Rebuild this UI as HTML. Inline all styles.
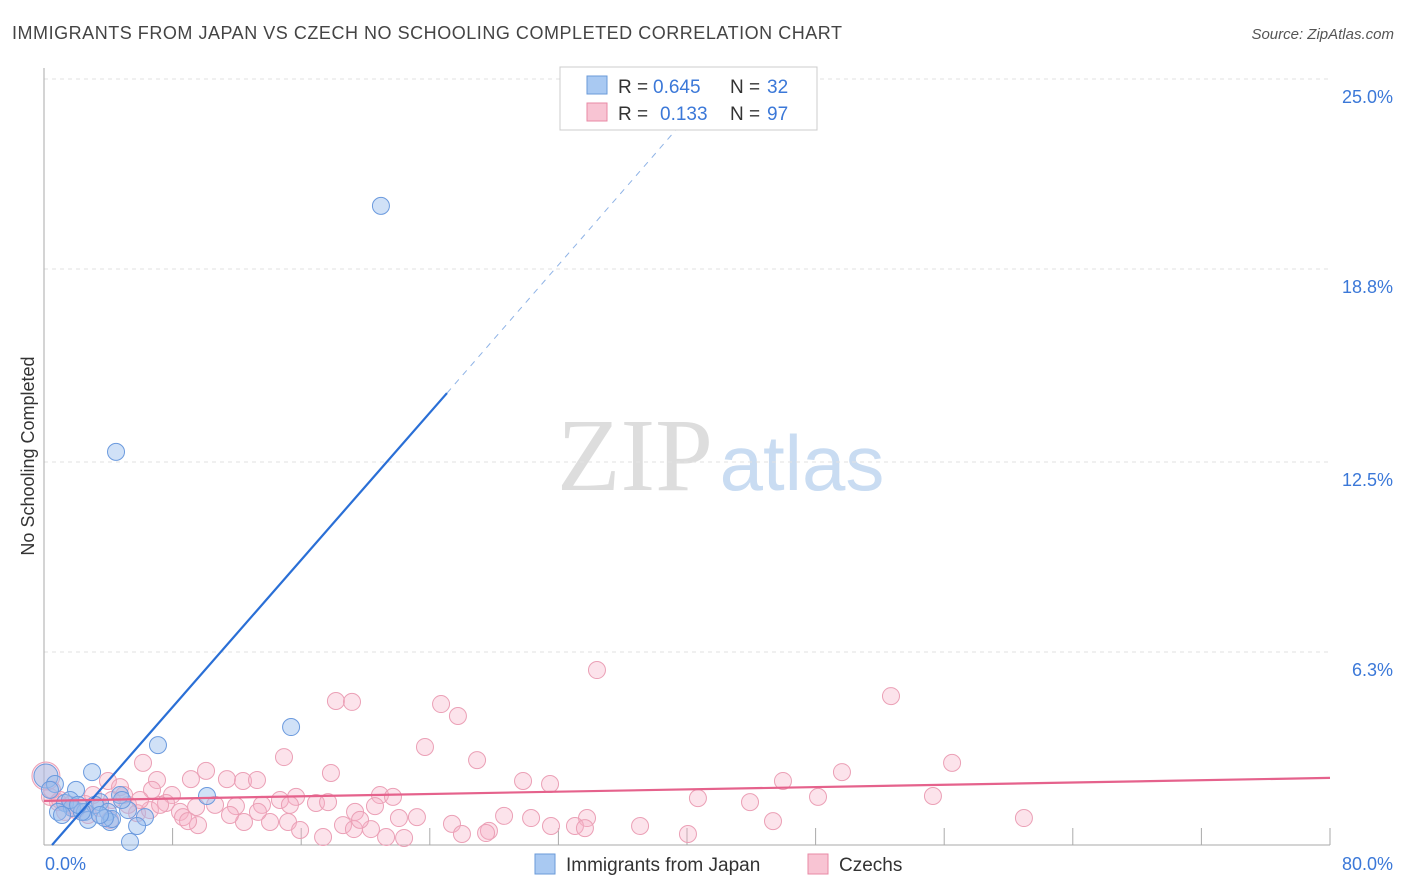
<!DOCTYPE html>
<html><head><meta charset="utf-8"><style>
body{margin:0;background:#fff;font-family:"Liberation Sans",sans-serif;}
svg{display:block}
</style></head><body>
<svg width="1406" height="892" xmlns="http://www.w3.org/2000/svg">
<text x="12" y="39" font-size="18" fill="#444" textLength="830">IMMIGRANTS FROM JAPAN VS CZECH NO SCHOOLING COMPLETED CORRELATION CHART</text>
<text x="1394" y="39" font-size="15" fill="#555" font-style="italic" text-anchor="end">Source: ZipAtlas.com</text>
<g>
<text x="635" y="490" font-size="104" fill="#ddd" font-family="Liberation Serif,serif" text-anchor="middle">ZIP</text>
<text x="802" y="490" font-size="78" fill="#c9dcf2" text-anchor="middle">atlas</text>
</g>
<g id="grid"></g>
<g id="axes"></g>
<text transform="translate(34,456) rotate(-90)" font-size="18" fill="#333" text-anchor="middle">No Schooling Completed</text>
<g id="marks"></g>
<g id="lines"></g>
<g>
<rect x="560" y="67" width="257" height="63" fill="#fff" stroke="#ccc"/>
<rect x="587" y="76" width="20" height="18" fill="#a9c9f2" stroke="#6a9ad8"/>
<rect x="587" y="103" width="20" height="18" fill="#f8c4d3" stroke="#e88aa6"/>
<text font-size="19" fill="#333"><tspan x="618" y="93">R =</tspan><tspan x="653" y="93" fill="#3b78d8">0.645</tspan><tspan x="730" y="93">N =</tspan><tspan x="767" y="93" fill="#3b78d8">32</tspan></text>
<text font-size="19" fill="#333"><tspan x="618" y="120">R =</tspan><tspan x="660" y="120" fill="#3b78d8">0.133</tspan><tspan x="730" y="120">N =</tspan><tspan x="767" y="120" fill="#3b78d8">97</tspan></text>
</g>
<g>
<rect x="535" y="854" width="20" height="20" fill="#a9c9f2" stroke="#6a9ad8"/>
<text x="566" y="871" font-size="19" fill="#333">Immigrants from Japan</text>
<rect x="808" y="854" width="20" height="20" fill="#f8c4d3" stroke="#e88aa6"/>
<text x="839" y="871" font-size="19" fill="#333">Czechs</text>
</g>
</svg>
<script>
const yTicks=[25.0,18.8,12.5,6.3];
const yTickLabels=["25.0%","18.8%","12.5%","6.3%"];
const xTicks=[0,8,16,24,32,40,48,56,64,72,80];
const japanX=[20.96,4.48,15.37,7.09,2.99,0.12,0.68,1.99,10.14,4.73,3.48,1.31,1.74,2.55,3.17,3.98,5.23,6.28,2.74,4.11,4.23,5.79,5.35,0.87,1.62,0.37,4.85,2.36,3.79,1.12,2.12,3.48];
const japanY=[20.86,12.83,3.85,3.26,2.38,2.25,1.99,1.80,1.60,1.63,1.40,1.37,1.21,1.08,1.31,1.08,1.14,0.91,0.82,0.75,0.85,0.62,0.10,1.08,1.47,1.80,1.47,1.08,0.88,0.98,1.31,0.98];
const czechX=[18.16,19.16,24.70,25.75,34.40,52.69,14.93,23.70,26.94,17.85,29.80,31.48,45.97,49.64,56.49,10.08,6.16,7.03,9.14,11.38,12.38,13.25,3.98,4.73,6.72,7.96,7.59,8.46,9.46,10.64,11.94,13.56,15.68,16.92,17.67,20.90,21.71,20.59,19.35,22.08,23.20,28.62,30.30,33.78,40.68,43.92,48.15,55.30,60.96,25.38,27.68,31.54,33.03,33.65,37.08,40.06,45.35,26.00,27.50,12.44,14.06,15.18,15.93,17.36,18.60,19.28,20.34,21.28,22.40,9.58,8.65,8.96,5.79,5.23,3.48,2.55,1.62,0.87,0.37,0.12,1.00,1.99,3.05,4.23,4.98,6.59,0.50,1.31,2.74,4.11,5.97,7.22,14.68,11.57,13.31,15.30,19.66];
const czechY=[4.70,4.67,4.60,4.21,5.71,4.86,2.87,3.20,2.77,2.35,2.09,1.99,2.09,2.38,2.68,2.42,2.68,2.12,2.15,2.15,2.09,2.12,2.09,1.89,1.80,1.63,1.37,1.08,1.24,1.31,1.27,1.31,1.57,1.37,1.40,1.63,1.57,1.27,1.08,0.88,0.91,0.95,0.88,0.88,1.53,1.40,1.57,1.60,0.88,0.69,0.46,0.62,0.62,0.55,0.62,0.36,0.78,0.36,0.39,0.75,0.75,0.75,0.49,0.26,0.65,0.52,0.52,0.26,0.23,0.65,0.91,0.78,1.04,1.31,1.21,1.34,1.31,1.40,1.57,2.25,1.47,1.14,1.63,1.47,1.63,1.14,1.80,1.08,0.98,0.82,1.47,1.31,1.47,0.98,1.08,1.31,0.82];
const japanTrend=[0.5,0,25.07,14.75,41.4,24.6];
const czechTrend=[0,1.44,80,2.19];
const NS="http://www.w3.org/2000/svg";
const X=v=>44+v*(1286/80), Y=v=>845-v*30.64;
function mk(t,a,p){const e=document.createElementNS(NS,t);for(const k in a)e.setAttribute(k,a[k]);p.appendChild(e);return e;}
const grid=document.getElementById('grid'),axes=document.getElementById('axes'),marks=document.getElementById('marks'),lines=document.getElementById('lines');
yTicks.forEach((t,i)=>{
 const l=mk('line',{x1:44,x2:1330,y1:Y(t),y2:Y(t),stroke:'#e2e2e2','stroke-dasharray':'4,4'},grid);
 
 
 const tx=mk('text',{x:1393,y:Y(t)+24,'font-size':18,fill:'#3b78d8','text-anchor':'end'},axes);
 tx.textContent=yTickLabels[i];
 
 
});
mk('line',{x1:44,x2:44,y1:68,y2:845,stroke:'#aaa'},axes);
mk('line',{x1:44,x2:1330,y1:845,y2:845,stroke:'#aaa'},axes);
xTicks.forEach(t=>{const l=mk('line',{x1:X(t),x2:X(t),y1:828,y2:845,stroke:'#aaa'},axes);
 
 });
let t0=mk('text',{x:45,y:870,'font-size':18,fill:'#3b78d8'},axes);t0.textContent='0.0%';


let t1=mk('text',{x:1393,y:870,'font-size':18,fill:'#3b78d8','text-anchor':'end'},axes);t1.textContent='80.0%';


czechX.forEach((x,i)=>{const big=(i===79);const c=mk('circle',{cx:X(x),cy:Y(czechY[i]),r:big?14:8.5,fill:'rgba(246,176,198,0.35)',stroke:'#eba0b6','stroke-width':1},marks);
 
 });
japanX.forEach((x,i)=>{const big=(i===5);const c=mk('circle',{cx:X(x),cy:Y(japanY[i]),r:big?12:8.5,fill:'rgba(150,188,238,0.45)',stroke:'#6b9ade','stroke-width':1},marks);
 
 });
let jl=mk('line',{x1:X(japanTrend[0]),y1:Y(japanTrend[1]),x2:X(japanTrend[2]),y2:Y(japanTrend[3]),stroke:'#2a6fd6','stroke-width':2.2},lines);


let jd=mk('line',{x1:X(japanTrend[2]),y1:Y(japanTrend[3]),x2:X(japanTrend[4]),y2:Y(japanTrend[5]),stroke:'#8fb3e6','stroke-width':1,'stroke-dasharray':'6,6'},lines);


let cl=mk('line',{x1:X(czechTrend[0]),y1:Y(czechTrend[1]),x2:X(czechTrend[2]),y2:Y(czechTrend[3]),stroke:'#e5628c','stroke-width':2.2},lines);


</script>
</body></html>
